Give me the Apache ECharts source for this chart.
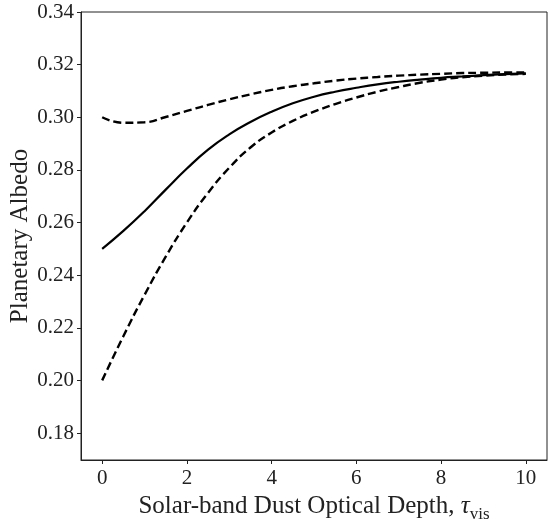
<!DOCTYPE html>
<html>
<head>
<meta charset="utf-8">
<script src="https://cdn.jsdelivr.net/npm/echarts@6/dist/echarts.min.js"></script>
<style>
html,body{margin:0;padding:0;background:#fff;}
#c{width:548px;height:522px;}
</style>
</head>
<body>
<div id="c"></div>
<script>
// Optical depth samples
const tau = [0,0.5,1,1.5,2,2.5,3,3.5,4,4.5,5,5.5,6,6.5,7,7.5,8,8.5,9,9.5,10];
// Solid curve (surface albedo 0.25)
const albedoMid = [0.2500,0.2568,0.2643,0.2725,0.2805,0.2877,0.2935,0.2982,0.3021,0.3053,0.3078,0.3097,0.3112,0.3125,0.3135,0.3143,0.3150,0.3155,0.3160,0.3164,0.3167];
// Upper dashed curve (surface albedo 0.30)
const albedoHigh = [0.3000,0.2979,0.2981,0.3001,0.3024,0.3047,0.3068,0.3087,0.3104,0.3118,0.3129,0.3139,0.3147,0.3153,0.3158,0.3162,0.3165,0.3168,0.3169,0.3170,0.3170];
// Lower dashed curve (surface albedo 0.20)
const albedoLow = [0.2000,0.2168,0.2325,0.2470,0.2600,0.2713,0.2808,0.2885,0.2942,0.2986,0.3021,0.3050,0.3075,0.3097,0.3115,0.3131,0.3143,0.3152,0.3158,0.3162,0.3165];
const xTicks = [0,2,4,6,8,10];
const yTicks = [0.18,0.20,0.22,0.24,0.26,0.28,0.30,0.32,0.34];

const pair = arr => tau.map((t,i)=>[t,arr[i]]);
const FONT = '"Liberation Serif", "DejaVu Serif", serif';
const chart = echarts.init(document.getElementById('c'), null, {renderer:'canvas'});
const lineBase = {type:'line', showSymbol:false, smooth:0.5, silent:true, animation:false};
chart.setOption({
  animation:false,
  backgroundColor:'#fff',
  grid:{left:81, right:1, top:12, bottom:62, containLabel:false, outerBoundsMode:'none',
        show:true, borderColor:'#222', borderWidth:1, backgroundColor:'transparent'},
  xAxis:{
    type:'value', min:-0.5, max:10.5,
    splitLine:{show:false},
    axisLine:{show:true, onZero:false, lineStyle:{color:'#222', width:1}},
    axisTick:{show:true, customValues:xTicks, length:4, lineStyle:{color:'#222'}},
    axisLabel:{customValues:xTicks, color:'#222', fontFamily:FONT, fontSize:21, margin:8},
    name:'{t|Solar-band Dust Optical Depth, }{i|τ}{s|vis}',
    nameLocation:'middle', nameGap:30, nameMoveOverlap:false,
    nameTextStyle:{rich:{
      t:{fontFamily:FONT, fontSize:25, color:'#222', lineHeight:33},
      i:{fontFamily:FONT, fontSize:25, fontStyle:'italic', color:'#222', lineHeight:33},
      s:{fontFamily:FONT, fontSize:17, color:'#222', lineHeight:17, verticalAlign:'bottom'}
    }}
  },
  yAxis:{
    type:'value', min:0.16974, max:0.34,
    splitLine:{show:false},
    axisLine:{show:true, onZero:false, lineStyle:{color:'#222', width:1}},
    axisTick:{show:true, customValues:yTicks, length:4, lineStyle:{color:'#222'}},
    axisLabel:{customValues:yTicks, color:'#222', fontFamily:FONT, fontSize:21, margin:7,
      formatter: v => v.toFixed(2)},
    name:'Planetary Albedo', nameLocation:'middle', nameGap:48, nameRotate:90, nameMoveOverlap:false,
    nameTextStyle:{fontFamily:FONT, fontSize:25, color:'#222'}
  },
  series:[
    Object.assign({}, lineBase, {name:'mid', data:pair(albedoMid), lineStyle:{color:'#000', width:2.2, type:'solid'}}),
    Object.assign({}, lineBase, {name:'high', data:pair(albedoHigh), lineStyle:{color:'#000', width:2.4, type:[8,4]}}),
    Object.assign({}, lineBase, {name:'low', data:pair(albedoLow), lineStyle:{color:'#000', width:2.4, type:[8,4]}})
  ]
});
</script>
</body>
</html>
